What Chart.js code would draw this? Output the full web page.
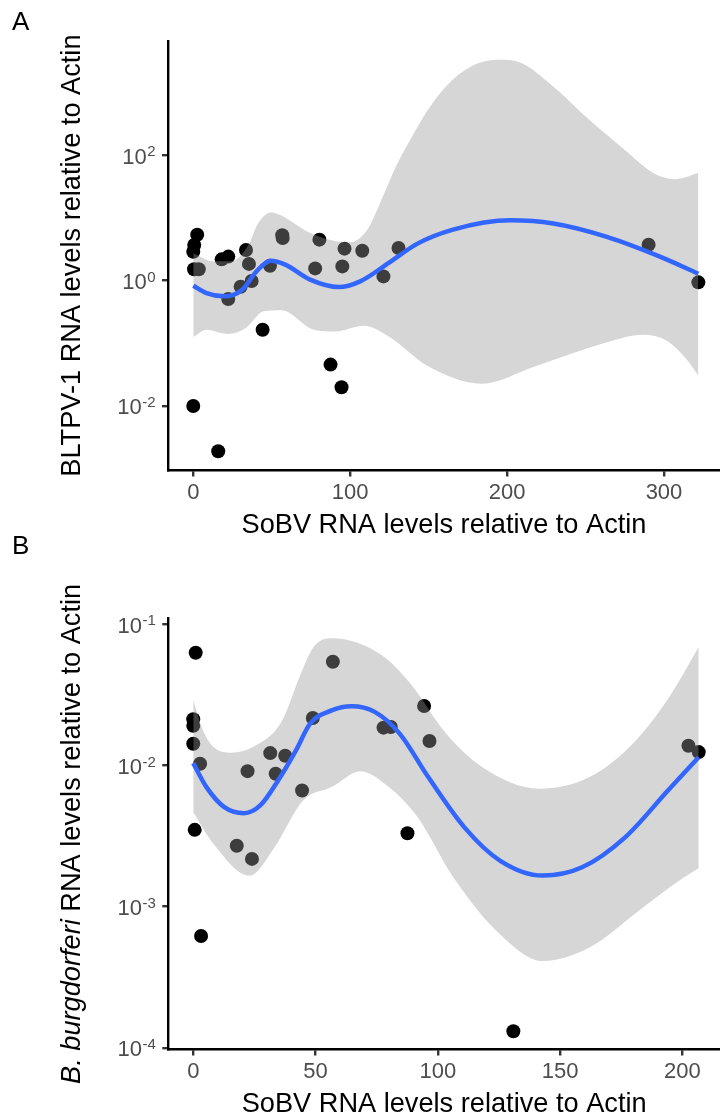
<!DOCTYPE html>
<html>
<head>
<meta charset="utf-8">
<script src="https://cdn.jsdelivr.net/npm/chart.js@4.4.1/dist/chart.umd.min.js"></script>
<style>
html, body { margin: 0; padding: 0; background: #fff; overflow: hidden; }
#wrap { position: relative; width: 720px; height: 1117px; }
.panel { position: absolute; left: 0; width: 720px; }
canvas { display: block; }
</style>
</head>
<body>
<div id="wrap">
  <div class="panel" style="top:0;height:535px"><canvas id="chartA" width="720" height="535"></canvas></div>
  <div class="panel" style="top:535px;height:582px"><canvas id="chartB" width="720" height="582"></canvas></div>
</div>
<script>
// ---- panel A : BLTPV-1 vs SoBV ----
const ptsAx = [0, 15.9, 44.2, 87.5, 94.5, 2.5, 0.6, 0, 0.5, 3.5, 18.1, 22.3, 33.6, 35.5, 37.2, 30.2, 22.3,
               48.9, 56.7, 57.0, 80.4, 77.7, 96.4, 95.0, 107.7, 121.2, 130.8, 290.2, 321.9]
const ptsAy = [0.01, 0.00189, 0.165, 0.0457, 0.0199, 5.4, 3.7, 2.9, 1.52, 1.52, 2.19, 2.42, 3.09, 1.85, 0.99, 0.80, 0.51,
               1.73, 5.3, 4.8, 4.51, 1.57, 3.24, 1.69, 3.01, 1.17, 3.32, 3.75, 0.94]

const fitAx = [0, 8.4, 19.8, 31.2, 40.3, 49.4, 58.6, 74.5, 92.7, 106.4, 124.6, 142.9, 165.6, 202, 229.5, 263.6, 297.8, 321.9]
const fitAy = [0.83, 0.635, 0.562, 0.718, 1.41, 2.08, 1.80, 1.04, 0.79, 0.975, 1.92, 3.90, 6.53, 9.18, 8.15, 4.99, 2.39, 1.29]

const upAx = [0, 13, 24.4, 35.8, 40.3, 44.9, 49.4, 56.3, 60.8, 74.5, 88.2, 99.5, 110.9, 120, 129.2, 138.3, 149.7, 161,
              177, 195.2, 206.6, 229.4, 252.2, 274.9, 293.2, 306.8, 321.9]
const upAy = [2.75, 2.04, 2.04, 3.98, 7.41, 10.7, 12.3, 11.0, 9.4, 5.75, 4.41, 4.09, 6.52, 19.6, 66.7, 178, 537, 1259,
              2630, 3365, 3162, 1259, 372, 123, 52.5, 41.7, 52.5]

const loAx = [0, 8.4, 22.1, 33.5, 44.9, 56.3, 76.8, 90.4, 108.7, 124.6, 149.7, 183.8, 218, 263.6, 286.3, 302.3, 313.7, 321.9]
const loAy = [0.126, 0.165, 0.141, 0.176, 0.324, 0.337, 0.165, 0.155, 0.191, 0.129, 0.043, 0.0227, 0.043, 0.104,
              0.137, 0.108, 0.0583, 0.0305]

const ticksAx = [0, 100, 200, 300]
const ticksAy = [1e-2, 1, 1e2]

// ---- panel B : B. burgdorferi vs SoBV ----
const ptsBx = [1.0, 0, 0, 0, 2.8, 0.6, 3.2, 17.8, 24.0, 22.2, 31.5, 37.6, 33.7, 44.5, 48.9, 57.1, 77.8, 80.8,
               94.4, 96.6, 87.6, 130.9, 202.5, 206.7]
const ptsBy = [0.0629, 0.0213, 0.0191, 0.01428, 0.0103, 0.0035, 0.00062, 0.0027, 0.00218, 0.00912, 0.01225, 0.01172,
               0.00874, 0.00665, 0.0217, 0.0543, 0.01854, 0.01875, 0.0264, 0.01493, 0.00331, 0.000131, 0.0138, 0.01245]

const fitBx = [0, 5.4, 12.7, 20.8, 27.4, 34.7, 42.0, 47.8, 56.6, 64.7, 74.2, 84.4, 96.1, 110.8, 125.4, 142.9, 159.0,
               176.6, 194.1, 206.7]
const fitBy = [0.0104, 0.00703, 0.00507, 0.00459, 0.00521, 0.00783, 0.0128, 0.0198, 0.0246, 0.0263, 0.0240, 0.01683,
               0.00828, 0.00366, 0.00212, 0.00166, 0.0019, 0.0031, 0.00665, 0.01146]

const upBx = [0, 4.0, 8.3, 15.7, 24.4, 36.1, 43.5, 49.3, 56.6, 77.1, 88.8, 103.4, 118.1, 141.5, 162.0, 181.0, 195.6, 206.7]
const upBy = [0.029, 0.01774, 0.01352, 0.01233, 0.01352, 0.0204, 0.0425, 0.0693, 0.0796, 0.0605, 0.0381, 0.01683,
              0.00975, 0.00684, 0.00828, 0.01507, 0.0324, 0.0693]

const loBx = [0, 8.3, 23.0, 33.2, 44.9, 56.6, 68.3, 80.0, 91.7, 106.4, 125.4, 142.9, 162.0, 183.9, 198.5, 206.7]
const loBy = [0.00467, 0.00278, 0.00166, 0.00263, 0.00564, 0.00703, 0.00912, 0.00703, 0.00431, 0.00161, 0.000638,
              0.000412, 0.000513, 0.000986, 0.00152, 0.00187]

const ticksBx = [0, 50, 100, 150, 200]
const ticksBy = [1e-4, 1e-3, 1e-2, 1e-1]

const FONT = '"Liberation Sans", Arial, Helvetica, sans-serif'

function pairs(xs, ys) {
    return xs.map((x, i) => ({x: x, y: ys[i]}))
}

// text that Chart.js can't do natively: 10^n labels, mixed italic title, panel letter
function textPlugin(letter, letterY, xTitle, yTitleParts) {
    return {
        id: 'panelText',
        afterDraw(chart) {
            const ctx = chart.ctx
            const area = chart.chartArea
            const ys = chart.scales.y
            ctx.save()
            ctx.fillStyle = '#4D4D4D'
            ctx.textAlign = 'right'
            ctx.textBaseline = 'alphabetic'
            ys.ticks.forEach(t => {
                const py = ys.getPixelForValue(t.value)
                const exp = String(Math.round(Math.log10(t.value)))
                const right = area.left - 12.5
                ctx.font = '15px ' + FONT
                const ew = ctx.measureText(exp).width
                ctx.fillText(exp, right, py + 1)
                ctx.font = '22px ' + FONT
                ctx.fillText('10', right - ew - 0.5, py + 8.5)
            })

            ctx.fillStyle = '#000'
            ctx.textAlign = 'center'
            ctx.font = '27.2px ' + FONT
            ctx.fillText(xTitle, (area.left + area.right) / 2, area.bottom + 62.5)

            // y title, rotated, possibly with italic part
            ctx.translate(80, (area.top + area.bottom) / 2)
            ctx.rotate(-Math.PI / 2)
            ctx.textAlign = 'left'
            let total = 0
            yTitleParts.forEach(p => {
                ctx.font = (p.italic ? 'italic ' : '') + '27.2px ' + FONT
                total += ctx.measureText(p.text).width
            })
            let x = -total / 2
            yTitleParts.forEach(p => {
                ctx.font = (p.italic ? 'italic ' : '') + '27.2px ' + FONT
                ctx.fillText(p.text, x, 0)
                x += ctx.measureText(p.text).width
            })
            ctx.restore()

            ctx.save()
            ctx.fillStyle = '#000'
            ctx.font = '26px ' + FONT
            ctx.textAlign = 'left'
            ctx.fillText(letter, 12, letterY)
            ctx.restore()
        }
    }
}

function makePanel(id, p) {
    const ctx = document.getElementById(id).getContext('2d')
    return new Chart(ctx, {
        type: 'line',
        data: {
            datasets: [{
                data: pairs(p.fitX, p.fitY),
                borderColor: '#3366FF',
                borderWidth: 4.5,
                pointRadius: 0,
                fill: false,
                cubicInterpolationMode: 'monotone'
            }, {
                data: pairs(p.upX, p.upY),
                borderColor: 'rgba(0,0,0,0)',
                borderWidth: 0,
                pointRadius: 0,
                backgroundColor: 'rgba(153,153,153,0.4)',
                fill: '+1',
                cubicInterpolationMode: 'monotone'
            }, {
                data: pairs(p.loX, p.loY),
                borderColor: 'rgba(0,0,0,0)',
                borderWidth: 0,
                pointRadius: 0,
                fill: false,
                cubicInterpolationMode: 'monotone'
            }, {
                data: pairs(p.ptX, p.ptY),
                showLine: false,
                pointRadius: 7,
                pointBackgroundColor: '#000',
                pointBorderWidth: 0,
                fill: false
            }]
        },
        options: {
            responsive: false,
            animation: false,
            events: [],
            layout: { padding: p.padding, autoPadding: false },
            plugins: { legend: { display: false }, tooltip: { enabled: false } },
            scales: {
                x: {
                    type: 'linear',
                    min: p.xRange[0],
                    max: p.xRange[1],
                    afterBuildTicks: s => { s.ticks = p.xTicks.map(v => ({value: v})) },
                    afterFit: s => { s.height = 40 },
                    border: { display: true, color: '#000', width: 2.4 },
                    grid: { display: true, drawOnChartArea: false, drawTicks: true, tickLength: 6, color: '#333333', lineWidth: 2.4 },
                    ticks: { color: '#4D4D4D', font: { family: FONT, size: 22 }, padding: 3, maxRotation: 0, autoSkip: false }
                },
                y: {
                    type: 'logarithmic',
                    min: p.yRange[0],
                    max: p.yRange[1],
                    bounds: 'data',
                    afterBuildTicks: s => { s.ticks = p.yTicks.map(v => ({value: v})) },
                    afterFit: s => { s.width = 6 },
                    border: { display: true, color: '#000', width: 2.4 },
                    grid: { display: true, drawOnChartArea: false, drawTicks: true, tickLength: 6, color: '#333333', lineWidth: 2.4 },
                    ticks: { display: false }
                }
            }
        },
        plugins: [textPlugin(p.letter, p.letterY, p.xTitle, p.yTitle)]
    })
}

makePanel('chartA', {
    ptX: ptsAx, ptY: ptsAy, fitX: fitAx, fitY: fitAy,
    upX: upAx, upY: upAy, loX: loAx, loY: loAy,
    xTicks: ticksAx, yTicks: ticksAy,
    xRange: [-16.1, 335.7], yRange: [Math.pow(10, -3.03), Math.pow(10, 3.83)],
    padding: { left: 162, top: 40.7, right: 0, bottom: 535 - 470.5 - 40 },
    letter: 'A', letterY: 30,
    xTitle: 'SoBV RNA levels relative to Actin',
    yTitle: [{ text: 'BLTPV-1 RNA levels relative to Actin', italic: false }]
})

makePanel('chartB', {
    ptX: ptsBx, ptY: ptsBy, fitX: fitBx, fitY: fitBy,
    upX: upBx, upY: upBy, loX: loBx, loY: loBy,
    xTicks: ticksBx, yTicks: ticksBy,
    xRange: [-10.2, 215.4], yRange: [Math.pow(10, -4.012), Math.pow(10, -0.957)],
    padding: { left: 162.3, top: 83.3, right: 0, bottom: 582 - 514.5 - 40 },
    letter: 'B', letterY: 18.8,
    xTitle: 'SoBV RNA levels relative to Actin',
    yTitle: [{ text: 'B. burgdorferi', italic: true }, { text: ' RNA levels relative to Actin', italic: false }]
})
</script>
</body>
</html>
